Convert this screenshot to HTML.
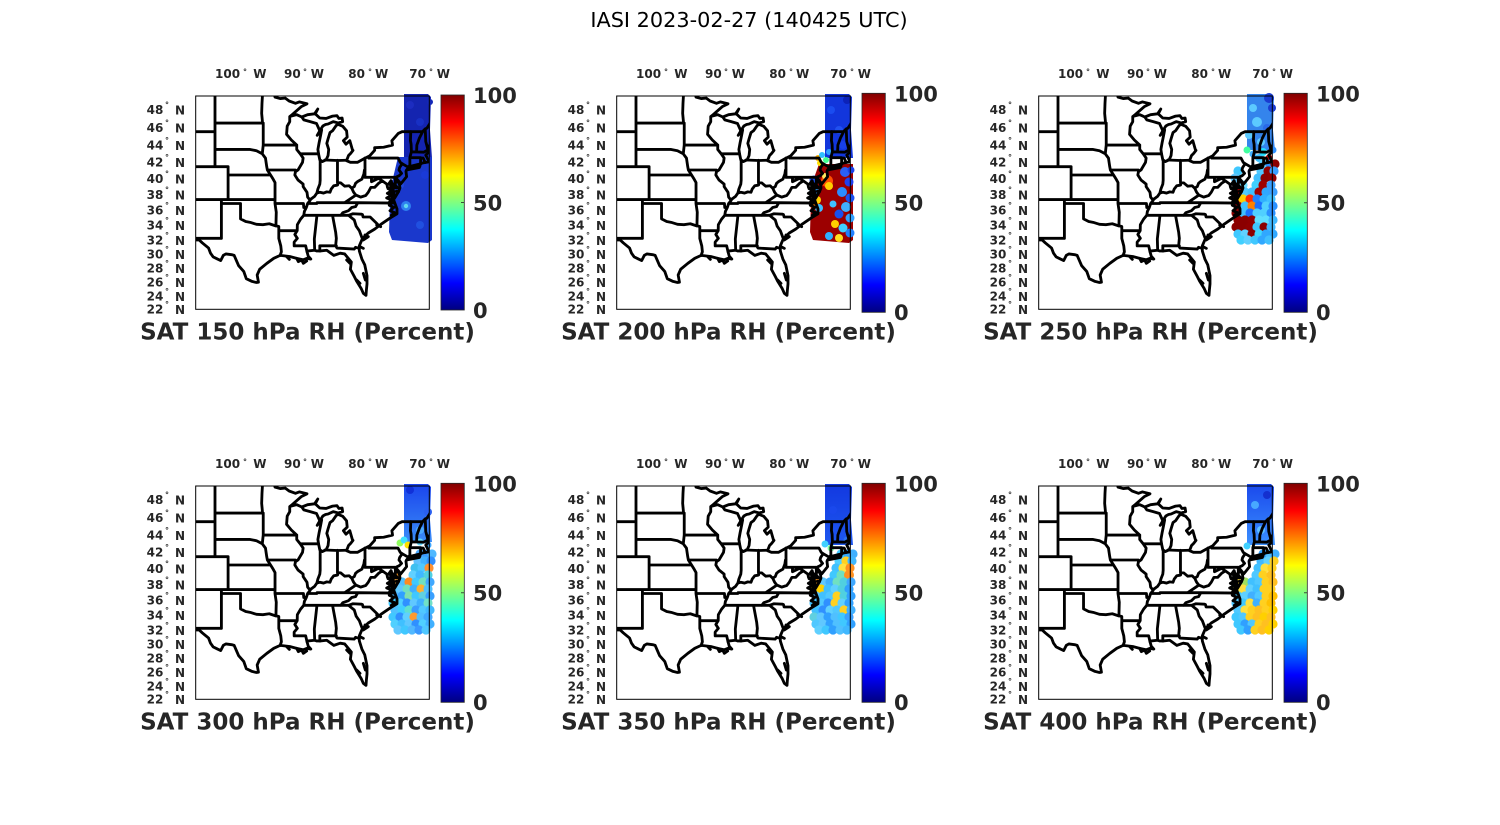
<!DOCTYPE html>
<html><head><meta charset="utf-8">
<style>html,body{margin:0;padding:0;background:#fff;}svg{display:block;}</style>
</head>
<body>
<svg width="1500" height="825" viewBox="0 0 1500 825" xmlns="http://www.w3.org/2000/svg" font-family="'DejaVu Sans','Liberation Sans',sans-serif">
<defs>
<linearGradient id="jet" x1="0" y1="0" x2="0" y2="1">
<stop offset="0" stop-color="#800000"/><stop offset="0.125" stop-color="#ff0000"/><stop offset="0.375" stop-color="#ffff00"/><stop offset="0.5" stop-color="#80ff80"/><stop offset="0.625" stop-color="#00ffff"/><stop offset="0.875" stop-color="#0000ff"/><stop offset="1" stop-color="#000080"/>
</linearGradient>
<linearGradient id="tb4" x1="0" y1="0" x2="0" y2="1"><stop offset="0" stop-color="#1a44ec"/><stop offset="1" stop-color="#3a8cf8"/></linearGradient>
<linearGradient id="tb5" x1="0" y1="0" x2="0" y2="1"><stop offset="0" stop-color="#1238e0"/><stop offset="1" stop-color="#1e58f0"/></linearGradient>
<linearGradient id="tb6" x1="0" y1="0" x2="0" y2="1"><stop offset="0" stop-color="#1a48ec"/><stop offset="1" stop-color="#3a90ff"/></linearGradient>
<clipPath id="mclip" clipPathUnits="userSpaceOnUse"><rect x="197" y="108" width="701" height="640"/></clipPath>
<g id="map" clip-path="url(#mclip)" fill="none" stroke="#000" stroke-width="8.5" stroke-linejoin="round" stroke-linecap="round">
<path d="M 901.7,251.2 L 893,265.8 L 895,277.5 L 887.3,285.2 L 895,300.7 L 906,300 L 906,293 L 900,298 L 895,306 L 879.6,308.4 L 868,312.3 L 837.5,320 L 829.8,330 L 827.9,333.8 L 829.8,350 L 812.6,371.2 L 801,357.5 L 808.7,374.9 L 809.6,384.6 L 805.8,394.4 L 793.4,415 L 791.5,396.8 L 783.8,362.7 L 785.7,394.4 L 785.7,418.6 L 791.5,421 L 801,447 L 801,461.3 L 781.9,473 L 755,491.3 L 734,507.4 L 714.8,519 L 697.6,535 L 688,557.5 L 688,572.9 L 695.7,597.2 L 704.3,614.7 L 711,647 L 711,672 L 709,692 L 708,706 L 700,700 L 693.8,686 L 680.4,664.3 L 672.7,649.2 L 661.2,627.8 L 664,606 L 644,581.8 L 630.5,579.6 L 611.4,586.2 L 590.3,570.7 L 571,572.9 L 559.6,572.9 L 554,570.7 L 534.7,572.9 L 531,575 L 534.7,588.4 L 542.4,597.2 L 531,595 L 519.4,599.4 L 500.2,595 L 479.2,589.5 L 450.4,586.2 L 431.3,595 L 410.2,610.3 L 389,627.8 L 381.5,645 L 385.3,666.5 L 379.5,667.5 L 366,664.3 L 348.9,656 L 341.2,634.2 L 325.9,617 L 312.5,586.2 L 304.8,584 L 287.6,581.8 L 279.9,586.2 L 272.2,601.6 L 262.7,597.2 L 249.3,590.6 L 241.6,579.6 L 235.8,564.2 L 216.7,548.5 L 207.1,539.5 L 190,540"/>
<path d="M 829.8,330 L 868,322.5 L 870,317.4 L 839.4,321.3 Z"/>
<path d="M 424.6,100 L 424.6,91.6 L 431.3,94 L 435.1,111.5 L 450.4,115.7 L 465.8,114.3 L 477.3,123 L 496.4,130 L 507.9,125.7 L 531,131.4 L 513.7,140 L 494.5,157 L 483,167 L 483,168.4 L 500.2,164 L 515.5,171 L 532.8,164 L 553.8,161.4 L 563.4,147 L 555.8,161.4 L 569.2,174 L 588.4,175.4 L 607.5,168.4 L 620.9,167 L 626.7,175.4 L 636.3,174 L 638,185 L 624.8,189 L 609.5,185 L 594.2,192 L 586.6,193.4 L 579,197.5 L 569.4,212.3 L 561.7,226 L 565,222 L 569.4,217.7 L 575,209.6 L 571.3,228.7 L 567.5,247.3 L 563.7,268.4 L 565.6,281.4 L 569.4,299.4 L 577,304.6 L 588.4,299.4 L 594.2,286.6 L 596.1,268.4 L 590.4,250 L 594.2,236.6 L 600,217.7 L 607.6,212.3 L 619,196 L 624.8,193.4 L 638.3,199 L 649.7,212.3 L 651.6,231.3 L 640.2,242 L 647.9,252.6 L 659.4,242 L 667,268.4 L 669,271 L 662,280 L 655.6,286.6 L 649.7,302 L 661.2,307 L 682.2,307 L 705.3,294.3 L 718.8,287.9 L 734,271 L 734,263 L 760.8,261.7 L 787.6,255.2 L 785.7,242 L 804.8,220.4 L 816.3,215 L 877.7,215 L 885.4,207 L 891,204.2 L 900,190 L 906,174"/>
<path d="M 255,100 L 255,320 M 190,215 L 255,215 M 190,320 L 294.3,320 L 294.3,418.6 M 255,189.3 L 397.7,189.3 M 255,268.4 L 360.4,268.4 L 379.5,272.3 L 396.8,281.4 L 406.4,294.3 L 408.3,307.2 L 410.2,320 L 412.1,330 L 421.7,345 M 397.7,100 L 396,130 L 395,160 L 397.7,189.3 L 399.7,189.3 L 399.7,255.2 L 396.8,281.4 M 399.7,255.2 L 500.2,255.2 M 500.2,255.2 L 484,240 L 469.7,223 L 471.6,198.7 L 479.2,185 L 479.2,169.5 L 483,167 M 294.3,345 L 421.7,345 L 429.4,357.5 L 435.1,367.6 L 435.1,418.6 M 190,418.6 L 435.1,418.6 M 274.2,418.6 L 274.2,535 M 190,535 L 274.2,535 M 274.2,430.5 L 331.6,430.5 L 331.6,476.5 L 347,484.4 L 360.4,487 L 379.5,493 L 398.7,494 L 417.8,491.3 L 437,497.6 M 435,418.6 L 435,430.5 L 438.8,456.6 L 437.8,497.4 L 446.4,499.6 L 446.4,535 L 452.3,557.5 L 454.2,575.2 L 450.4,586.2 M 446.4,512 L 501.6,512 M 435,430.5 L 520.3,430.5 L 521.3,442.4 L 529,442.4 M 500.2,255.2 L 500.2,268.4 L 510.7,281.4 L 519.4,294.3 L 517.5,307.2 L 504,330 L 496.4,335 L 494.5,345 L 504,360 L 519.4,372.4 L 519.4,379.8 L 531,396.8 L 532.9,411.3 L 538.6,418.6 L 540.5,421 L 532.9,430.5 L 529,442.4 L 523.2,454.2 L 521.3,466 L 511.7,477.5 L 502,494 L 501.6,512 L 494.5,523.5 L 502,535 L 492.5,546.3 L 492.5,557.5 L 527,557.5 L 531,575.2 M 412.7,330 L 496.4,330 M 510.9,281.4 L 565.6,281.4 M 570.5,300 L 570.5,361.2 L 569.4,372.4 L 563.7,387 L 560.6,399.2 L 553.8,409 L 548,413.4 L 540.5,418.6 M 560.6,399.2 L 569.4,396.8 L 580.7,399.2 L 590.3,395.6 L 600,396.8 L 603.7,387 L 611.3,377.3 L 619,376 L 622.8,374.9 L 622.8,367.6 L 632.4,368.8 L 644,378.5 L 657.4,377.3 L 665.1,384.6 L 672.8,379.8 L 676.6,370 L 682.4,365 L 695.8,357.5 L 701.5,342.5 L 703.4,330 L 705,329 M 622.4,301 L 622.4,367.6 M 584.6,300 L 622.8,301.5 L 648.7,300.7 M 705,294.3 L 705,352 L 795.8,352 M 716.2,294.3 L 804.1,294.3 L 810.8,307.2 L 816.6,311 L 808.9,322.5 L 807,330 L 814.7,340 L 807,347.5 L 801.1,350 M 816.6,311 L 832,320 M 836.7,320 L 839.6,315 L 839.6,293 L 844.2,275 L 843.3,252.6 L 841.3,242 L 842.3,215 M 839.6,293 L 871.8,293 L 871.8,312.3 M 871.8,294 L 879.6,294.3 L 885.4,307.2 M 844.2,275.5 L 859.7,275.8 L 881.7,276.5 L 889.3,272.3 M 859.7,275.8 L 860.6,255.2 L 868.3,234 L 877.9,215 M 893,265.8 L 887.3,244.6 L 885.7,207 M 665.1,384.6 L 670.9,396.8 L 677.6,405.3 L 665.1,413.8 L 644,428.1 L 561,428.1 L 560.6,430.5 L 532.9,430.5 M 644,428.1 L 683.5,428.1 L 793.4,429.3 M 683.5,428.1 L 676.6,440 L 665.1,442.4 L 655.5,452 L 638.3,458 L 632.4,466 M 655.5,466 L 521.3,466 M 655.5,466 L 669,461.3 L 694.5,462.5 L 697.4,463.7 L 699.3,471 L 720.4,471 L 742.4,492.5 M 655.5,466 L 672.8,480 L 678.5,498.6 L 688,512 L 695.7,532.7 M 607.6,466 L 617,516.6 L 619,535 L 617,557.5 M 617,557.5 L 621,564.2 L 672.8,567.3 L 676.6,562 L 685.4,564.2 M 619,557.5 L 569.4,557.5 L 569.4,572.9 M 558.7,466 L 560.6,468 L 553,537 L 554,570.7 M 724.4,352 L 724.4,365 L 745.6,355 L 757,362.7 L 770.6,372.4 L 772.5,382.1 L 785.7,394.4 M 757,362.7 L 745.6,370 L 734,382.1 L 722.6,382.1 L 714.8,396.8 L 707.2,406.5 L 691.8,411.3 L 677.6,405.3 M 795.8,352 L 795.8,383.4 L 809.6,383.4 M 799,394 L 805.8,394.4 M 515.5,171 L 521.3,179.6 L 540.5,185 L 559.6,190.6 L 569.4,212.3"/>
<path d="M 783,362 L 776,372 L 788,378 L 774,386 L 786,392 L 772,400 L 785,406 L 770,414 L 784,420 L 775,430 M 795,352 L 800,365 L 792,372 L 800,380 M 790,425 L 778,436 L 792,442 L 780,452 L 794,458 L 784,466 M 740,495 L 752,500 M 705,525 L 715,530 L 700,540 M 690,560 L 700,565 M 500,595 L 505,605 L 515,600 L 520,610 L 530,603 M 470,590 L 478,598 M 650,600 L 660,610 M 700,640 L 706,660 M 680,660 L 690,670"/>
</g>
</defs>

<rect width="1500" height="825" fill="#fff"/>
<text x="749" y="27" font-size="20.8" text-anchor="middle" fill="#000">IASI 2023-02-27 (140425 UTC)</text>

<!-- ===== Panel 1 ===== -->
<g>
<polygon points="404,94 428,94 431,97 430,130 432,158 404,158" fill="#1424b0"/>
<polygon points="398,157 432,157 432,240 428,243 392,240 389,232 390,200 393,178" fill="#1a38cc"/>
<circle cx="410" cy="105" r="4" fill="#1c2cc0"/><circle cx="420" cy="122" r="4" fill="#1830c4"/><circle cx="430" cy="102" r="3" fill="#1428b8"/>
<circle cx="400" cy="185" r="4" fill="#2048dc"/><circle cx="420" cy="225" r="4" fill="#2050e0"/><circle cx="425" cy="175" r="4" fill="#1a3ad8"/>
<circle cx="406" cy="206" r="5" fill="#2f7ff0"/><circle cx="406" cy="206" r="2.2" fill="#5fd8f0"/>
<use href="#map" transform="translate(130,60) scale(0.333333)"/>
</g>

<!-- ===== Panel 2 ===== -->
<g transform="translate(421,0)">
<polygon points="404,94 428,94 431,97 430,130 432,158 404,158" fill="#1236dc"/>
<circle cx="410" cy="110" r="4" fill="#1a4cf0"/><circle cx="418" cy="130" r="4" fill="#2050f0"/><circle cx="426" cy="100" r="4" fill="#0c22b8"/><circle cx="422" cy="145" r="4" fill="#1840e8"/>
<polygon points="398,164 432,164 432,240 428,243 392,240 389,232 390,200 393,178" fill="#9c0000"/>
<circle cx="397" cy="158" r="3" fill="#ffb000"/><circle cx="401" cy="155" r="3" fill="#30c0ff"/><circle cx="399" cy="163" r="3" fill="#ffe000"/><circle cx="405" cy="160" r="3" fill="#40ff90"/><circle cx="408" cy="152" r="3" fill="#30a0ff"/>
<g>
<circle cx="393" cy="180" r="4.5" fill="#1e50f0"/><circle cx="393" cy="190" r="4.5" fill="#30a0ff"/><circle cx="396" cy="200" r="4" fill="#ffd000"/><circle cx="392" cy="205" r="3" fill="#ff8000"/><circle cx="398" cy="208" r="4" fill="#40c0ff"/>
<circle cx="406" cy="181" r="6" fill="#ff5000"/><circle cx="408" cy="186" r="4" fill="#ffd000"/><circle cx="404" cy="176" r="3" fill="#ffe860"/>
<circle cx="424" cy="172" r="5" fill="#2a60f5"/><circle cx="428" cy="182" r="4.5" fill="#1e40f0"/><circle cx="421" cy="192" r="5" fill="#2a8cff"/><circle cx="429" cy="198" r="4.5" fill="#1a50f0"/><circle cx="425" cy="207" r="5" fill="#40b0ff"/><circle cx="412" cy="204" r="3.5" fill="#40c0ff"/><circle cx="418" cy="214" r="4.5" fill="#1850f0"/><circle cx="429" cy="218" r="4.5" fill="#30a0ff"/><circle cx="414" cy="224" r="4" fill="#ffd000"/><circle cx="422" cy="228" r="4.5" fill="#40d0ff"/><circle cx="429" cy="233" r="4.5" fill="#2080ff"/><circle cx="408" cy="236" r="4" fill="#30b0ff"/><circle cx="418" cy="238" r="4" fill="#ffe020"/><circle cx="430" cy="170" r="3.5" fill="#1a40e8"/>
</g>
<use href="#map" transform="translate(130,60) scale(0.333333)"/>
</g>

<!-- ===== Panel 3 ===== -->
<g transform="translate(843,0)">
<polygon points="404,94 428,94 431,97 430,130 432,150 404,150" fill="#3484ec"/>
<circle cx="410" cy="108" r="4" fill="#5ccaff"/><circle cx="414" cy="122" r="5" fill="#5ccaff"/><circle cx="406" cy="135" r="4" fill="#5ccaff"/><circle cx="418" cy="142" r="4" fill="#5ccaff"/><circle cx="426" cy="98" r="5" fill="#1a3cd0"/><circle cx="429" cy="108" r="4" fill="#1a3cd0"/><circle cx="424" cy="128" r="4" fill="#2a6ae8"/>
<circle cx="404" cy="150" r="3.5" fill="#40ffa0"/><circle cx="420" cy="152" r="4" fill="#20e0ff"/><circle cx="426" cy="158" r="3.5" fill="#c00000"/><circle cx="416" cy="158" r="4" fill="#40c0ff"/><circle cx="410" cy="154" r="3.5" fill="#40b0ff"/><circle cx="430" cy="150" r="3.5" fill="#3090ff"/>
<g>
<circle cx="420" cy="164" r="4.6" fill="#60d0ff"/><circle cx="427" cy="164" r="4.6" fill="#2a90ff"/><circle cx="432" cy="164" r="4.6" fill="#8b0000"/>
<circle cx="395" cy="171" r="4.6" fill="#40c8ff"/><circle cx="418" cy="171" r="4.6" fill="#50c8ff"/><circle cx="425" cy="171" r="4.6" fill="#900000"/><circle cx="431" cy="171" r="4.6" fill="#3aa0ff"/>
<circle cx="392" cy="178" r="4.6" fill="#60c8ff"/><circle cx="415" cy="178" r="4.6" fill="#40c0ff"/><circle cx="422" cy="178" r="4.6" fill="#8b0000"/><circle cx="429" cy="178" r="4.6" fill="#900000"/>
<circle cx="400" cy="185" r="4.6" fill="#70e0ff"/><circle cx="413" cy="185" r="4.6" fill="#40d0ff"/><circle cx="420" cy="185" r="4.6" fill="#a00000"/><circle cx="428" cy="185" r="4.6" fill="#3aa0ff"/>
<circle cx="395" cy="192" r="4.6" fill="#c00000"/><circle cx="402" cy="192" r="4.6" fill="#50c8ff"/><circle cx="409" cy="192" r="4.6" fill="#40c0ff"/><circle cx="416" cy="192" r="4.6" fill="#a00000"/><circle cx="423" cy="192" r="4.6" fill="#30a8ff"/><circle cx="430" cy="192" r="4.6" fill="#3aa0ff"/>
<circle cx="393" cy="199" r="4.6" fill="#8b0000"/><circle cx="400" cy="199" r="4.6" fill="#ffd000"/><circle cx="407" cy="199" r="4.6" fill="#ff2a00"/><circle cx="414" cy="199" r="4.6" fill="#2080ff"/><circle cx="421" cy="199" r="4.6" fill="#30b0ff"/><circle cx="428" cy="199" r="4.6" fill="#40c0ff"/>
<circle cx="395" cy="206" r="4.6" fill="#900000"/><circle cx="402" cy="206" r="4.6" fill="#40c0ff"/><circle cx="409" cy="206" r="4.6" fill="#ff8000"/><circle cx="416" cy="206" r="4.6" fill="#1a70ff"/><circle cx="423" cy="206" r="4.6" fill="#50d0ff"/><circle cx="430" cy="206" r="4.6" fill="#2a90ff"/>
<circle cx="393" cy="213" r="4.6" fill="#8b0000"/><circle cx="400" cy="213" r="4.6" fill="#40c0ff"/><circle cx="407" cy="213" r="4.6" fill="#1a70ff"/><circle cx="414" cy="213" r="4.6" fill="#50d0ff"/><circle cx="421" cy="213" r="4.6" fill="#50d0ff"/><circle cx="428" cy="213" r="4.6" fill="#2a90ff"/>
<circle cx="395" cy="220" r="4.6" fill="#8b0000"/><circle cx="402" cy="220" r="4.6" fill="#8b0000"/><circle cx="409" cy="220" r="4.6" fill="#900000"/><circle cx="416" cy="220" r="4.6" fill="#60e0ff"/><circle cx="423" cy="220" r="4.6" fill="#60e0ff"/><circle cx="430" cy="220" r="4.6" fill="#40b8ff"/>
<circle cx="393" cy="227" r="4.6" fill="#8b0000"/><circle cx="400" cy="227" r="4.6" fill="#8b0000"/><circle cx="407" cy="227" r="4.6" fill="#900000"/><circle cx="414" cy="227" r="4.6" fill="#40c8ff"/><circle cx="421" cy="227" r="4.6" fill="#8b0000"/><circle cx="428" cy="227" r="4.6" fill="#40b8ff"/>
<circle cx="395" cy="234" r="4.6" fill="#40c8ff"/><circle cx="402" cy="234" r="4.6" fill="#60d0ff"/><circle cx="409" cy="234" r="4.6" fill="#8b0000"/><circle cx="416" cy="234" r="4.6" fill="#40d8ff"/><circle cx="423" cy="234" r="4.6" fill="#30a8ff"/><circle cx="430" cy="234" r="4.6" fill="#30a8ff"/>
<circle cx="398" cy="240" r="4.6" fill="#40d0ff"/><circle cx="405" cy="240" r="4.6" fill="#60d0ff"/><circle cx="412" cy="240" r="4.6" fill="#40c8ff"/><circle cx="419" cy="240" r="4.6" fill="#30a8ff"/><circle cx="426" cy="240" r="4.6" fill="#40c0ff"/>
</g>
<use href="#map" transform="translate(130,60) scale(0.333333)"/>
</g>

<!-- ===== Panel 4 ===== -->
<g transform="translate(0,390)">
<polygon points="404,94 428,94 431,97 430,130 432,152 404,152" fill="url(#tb4)"/>
<circle cx="410" cy="100" r="4" fill="#1030d8"/><circle cx="420" cy="140" r="4" fill="#4aa8ff"/><circle cx="428" cy="122" r="4" fill="#2a60f0"/>
<circle cx="400" cy="153" r="3.5" fill="#90ff60"/><circle cx="404" cy="150" r="3.5" fill="#40e0ff"/><circle cx="408" cy="155" r="3.5" fill="#ffe000"/><circle cx="420" cy="152" r="3.5" fill="#60d8ff"/><circle cx="428" cy="155" r="3.5" fill="#40a8ff"/>
<g>
<circle cx="420" cy="164" r="4.6" fill="#4aa8ff"/><circle cx="427" cy="164" r="4.6" fill="#3a98ff"/><circle cx="432" cy="164" r="4.6" fill="#50b8ff"/>
<circle cx="418" cy="171" r="4.6" fill="#60c0ff"/><circle cx="425" cy="171" r="4.6" fill="#40b0ff"/><circle cx="431" cy="171" r="4.6" fill="#3090ff"/>
<circle cx="415" cy="178" r="4.6" fill="#40c0f0"/><circle cx="422" cy="178" r="4.6" fill="#50c8ff"/><circle cx="429" cy="178" r="4.6" fill="#ff9030"/>
<circle cx="398" cy="185" r="3.5" fill="#ff9a20"/><circle cx="413" cy="185" r="4.6" fill="#60d0ff"/><circle cx="420" cy="185" r="4.6" fill="#40b8ff"/><circle cx="428" cy="185" r="4.6" fill="#50d0e0"/>
<circle cx="395" cy="192" r="4.6" fill="#ffb040"/><circle cx="402" cy="192" r="4.6" fill="#50c0ff"/><circle cx="409" cy="192" r="4.6" fill="#ff8a20"/><circle cx="416" cy="192" r="4.6" fill="#40c8ff"/><circle cx="423" cy="192" r="4.6" fill="#70e0c0"/><circle cx="430" cy="192" r="4.6" fill="#40a8ff"/>
<circle cx="393" cy="199" r="4.6" fill="#40d0ff"/><circle cx="400" cy="199" r="4.6" fill="#60c8ff"/><circle cx="407" cy="199" r="4.6" fill="#70e0c0"/><circle cx="414" cy="199" r="4.6" fill="#40b0ff"/><circle cx="421" cy="199" r="4.6" fill="#ffb030"/><circle cx="428" cy="199" r="4.6" fill="#50c0ff"/>
<circle cx="395" cy="206" r="4.6" fill="#50b8ff"/><circle cx="402" cy="206" r="4.6" fill="#30a0ff"/><circle cx="409" cy="206" r="4.6" fill="#80e0b0"/><circle cx="416" cy="206" r="4.6" fill="#40c8ff"/><circle cx="423" cy="206" r="4.6" fill="#60d0e0"/><circle cx="430" cy="206" r="4.6" fill="#3aa0ff"/>
<circle cx="393" cy="213" r="4.6" fill="#40c8ff"/><circle cx="400" cy="213" r="4.6" fill="#50d0ff"/><circle cx="407" cy="213" r="4.6" fill="#3090ff"/><circle cx="414" cy="213" r="4.6" fill="#60c8ff"/><circle cx="421" cy="213" r="4.6" fill="#40b0ff"/><circle cx="428" cy="213" r="4.6" fill="#70e0c8"/>
<circle cx="395" cy="220" r="4.6" fill="#50c0ff"/><circle cx="402" cy="220" r="4.6" fill="#40d0ff"/><circle cx="409" cy="220" r="4.6" fill="#60e0d0"/><circle cx="416" cy="220" r="4.6" fill="#3a9cff"/><circle cx="423" cy="220" r="4.6" fill="#50c8ff"/><circle cx="430" cy="220" r="4.6" fill="#40b8ff"/>
<circle cx="393" cy="227" r="4.6" fill="#40c8ff"/><circle cx="400" cy="227" r="4.6" fill="#3090ff"/><circle cx="407" cy="227" r="4.6" fill="#60d0ff"/><circle cx="414" cy="227" r="4.6" fill="#ff9a30"/><circle cx="421" cy="227" r="4.6" fill="#50c0ff"/><circle cx="428" cy="227" r="4.6" fill="#40a8ff"/>
<circle cx="395" cy="234" r="4.6" fill="#50d0ff"/><circle cx="402" cy="234" r="4.6" fill="#40c0ff"/><circle cx="409" cy="234" r="4.6" fill="#60c8ff"/><circle cx="416" cy="234" r="4.6" fill="#3090ff"/><circle cx="423" cy="234" r="4.6" fill="#50d0ff"/><circle cx="430" cy="234" r="4.6" fill="#40b0ff"/>
<circle cx="398" cy="240" r="4.6" fill="#60c8ff"/><circle cx="405" cy="240" r="4.6" fill="#40c8ff"/><circle cx="412" cy="240" r="4.6" fill="#50b8ff"/><circle cx="419" cy="240" r="4.6" fill="#3a98ff"/><circle cx="426" cy="240" r="4.6" fill="#50c8ff"/>
</g>
<use href="#map" transform="translate(130,60) scale(0.333333)"/>
</g>

<!-- ===== Panel 5 ===== -->
<g transform="translate(421,390)">
<polygon points="404,94 428,94 431,97 430,130 432,155 404,155" fill="url(#tb5)"/>
<circle cx="412" cy="120" r="4" fill="#1a48ec"/><circle cx="404" cy="154" r="3.5" fill="#40d0ff"/><circle cx="410" cy="158" r="3.5" fill="#80ffa0"/><circle cx="426" cy="150" r="3.5" fill="#2a70f0"/>
<g>
<circle cx="420" cy="164" r="4.6" fill="#40c8ff"/><circle cx="427" cy="164" r="4.6" fill="#30a8ff"/><circle cx="432" cy="164" r="4.6" fill="#40b0ff"/>
<circle cx="418" cy="171" r="4.6" fill="#50d0ff"/><circle cx="425" cy="171" r="4.6" fill="#ffd020"/><circle cx="431" cy="171" r="4.6" fill="#40b8ff"/>
<circle cx="415" cy="178" r="4.6" fill="#40c0ff"/><circle cx="422" cy="178" r="4.6" fill="#ffe040"/><circle cx="429" cy="178" r="4.6" fill="#ff9020"/>
<circle cx="413" cy="185" r="4.6" fill="#40c8ff"/><circle cx="420" cy="185" r="4.6" fill="#70e0c0"/><circle cx="428" cy="185" r="5" fill="#ff9020"/>
<circle cx="395" cy="192" r="4.6" fill="#ff9a20"/><circle cx="402" cy="192" r="4.6" fill="#60c8ff"/><circle cx="409" cy="192" r="4.6" fill="#40b0ff"/><circle cx="416" cy="192" r="4.6" fill="#70e0c0"/><circle cx="423" cy="192" r="4.6" fill="#50d0e0"/><circle cx="430" cy="192" r="4.6" fill="#40a8ff"/>
<circle cx="393" cy="199" r="4.6" fill="#ffd000"/><circle cx="400" cy="199" r="4.6" fill="#ffd000"/><circle cx="407" cy="199" r="4.6" fill="#40c0ff"/><circle cx="414" cy="199" r="4.6" fill="#60d0ff"/><circle cx="421" cy="199" r="4.6" fill="#50d0e0"/><circle cx="428" cy="199" r="4.6" fill="#30a0ff"/>
<circle cx="395" cy="206" r="4.6" fill="#60c8ff"/><circle cx="402" cy="206" r="4.6" fill="#40c0ff"/><circle cx="409" cy="206" r="4.6" fill="#50c8ff"/><circle cx="416" cy="206" r="4.6" fill="#ffd020"/><circle cx="423" cy="206" r="4.6" fill="#50d0e0"/><circle cx="430" cy="206" r="4.6" fill="#30a0ff"/>
<circle cx="393" cy="213" r="4.6" fill="#40c0ff"/><circle cx="400" cy="213" r="4.6" fill="#50c8ff"/><circle cx="407" cy="213" r="4.6" fill="#3090ff"/><circle cx="414" cy="213" r="4.6" fill="#ffd020"/><circle cx="421" cy="213" r="4.6" fill="#60d0ff"/><circle cx="428" cy="213" r="4.6" fill="#30a0ff"/>
<circle cx="395" cy="220" r="4.6" fill="#40c0ff"/><circle cx="402" cy="220" r="4.6" fill="#3090ff"/><circle cx="409" cy="220" r="4.6" fill="#60d0ff"/><circle cx="416" cy="220" r="4.6" fill="#50c8ff"/><circle cx="423" cy="220" r="4.6" fill="#ffd020"/><circle cx="430" cy="220" r="4.6" fill="#40b0ff"/>
<circle cx="393" cy="227" r="4.6" fill="#60d0e0"/><circle cx="400" cy="227" r="4.6" fill="#60c8ff"/><circle cx="407" cy="227" r="4.6" fill="#30a0ff"/><circle cx="414" cy="227" r="4.6" fill="#50c0ff"/><circle cx="421" cy="227" r="4.6" fill="#40c8ff"/><circle cx="428" cy="227" r="4.6" fill="#3aa0ff"/>
<circle cx="395" cy="234" r="4.6" fill="#50c8ff"/><circle cx="402" cy="234" r="4.6" fill="#60c8ff"/><circle cx="409" cy="234" r="4.6" fill="#30a0ff"/><circle cx="416" cy="234" r="4.6" fill="#50c0ff"/><circle cx="423" cy="234" r="4.6" fill="#40c8ff"/><circle cx="430" cy="234" r="4.6" fill="#30a0ff"/>
<circle cx="398" cy="240" r="4.6" fill="#60d0ff"/><circle cx="405" cy="240" r="4.6" fill="#40c8ff"/><circle cx="412" cy="240" r="4.6" fill="#30a0ff"/><circle cx="419" cy="240" r="4.6" fill="#50c0ff"/><circle cx="426" cy="240" r="4.6" fill="#40b8ff"/>
</g>
<use href="#map" transform="translate(130,60) scale(0.333333)"/>
</g>

<!-- ===== Panel 6 ===== -->
<g transform="translate(843,390)">
<polygon points="404,94 428,94 431,97 430,130 432,155 404,155" fill="url(#tb6)"/>
<circle cx="412" cy="115" r="4" fill="#48a8ff"/><circle cx="424" cy="105" r="4" fill="#1430d0"/><circle cx="418" cy="140" r="4" fill="#60c0ff"/><circle cx="404" cy="156" r="3.5" fill="#40d0ff"/><circle cx="428" cy="150" r="3.5" fill="#3a90ff"/>
<g>
<circle cx="420" cy="164" r="4.6" fill="#30a0ff"/><circle cx="427" cy="164" r="4.6" fill="#50c0ff"/><circle cx="432" cy="164" r="4.6" fill="#40b0ff"/>
<circle cx="418" cy="171" r="4.6" fill="#40b8ff"/><circle cx="425" cy="171" r="4.6" fill="#60d0ff"/><circle cx="431" cy="171" r="4.6" fill="#ffd020"/>
<circle cx="415" cy="178" r="4.6" fill="#40c0ff"/><circle cx="422" cy="178" r="4.6" fill="#ffe040"/><circle cx="429" cy="178" r="4.6" fill="#ffd020"/>
<circle cx="413" cy="185" r="4.6" fill="#50c8ff"/><circle cx="420" cy="185" r="4.6" fill="#ffd020"/><circle cx="428" cy="185" r="4.6" fill="#ffc020"/>
<circle cx="395" cy="192" r="4.6" fill="#ffe040"/><circle cx="402" cy="192" r="4.6" fill="#a0e060"/><circle cx="409" cy="192" r="4.6" fill="#40c0ff"/><circle cx="416" cy="192" r="4.6" fill="#50c8ff"/><circle cx="423" cy="192" r="4.6" fill="#ffd020"/><circle cx="430" cy="192" r="4.6" fill="#ffc020"/>
<circle cx="393" cy="199" r="4.6" fill="#e0e020"/><circle cx="400" cy="199" r="4.6" fill="#ffe040"/><circle cx="407" cy="199" r="4.6" fill="#60d0ff"/><circle cx="414" cy="199" r="4.6" fill="#40c0ff"/><circle cx="421" cy="199" r="4.6" fill="#ffd020"/><circle cx="428" cy="199" r="4.6" fill="#ffd020"/>
<circle cx="395" cy="206" r="4.6" fill="#40c8ff"/><circle cx="402" cy="206" r="4.6" fill="#60d0ff"/><circle cx="409" cy="206" r="4.6" fill="#40b0ff"/><circle cx="416" cy="206" r="4.6" fill="#50c8ff"/><circle cx="423" cy="206" r="4.6" fill="#ffd020"/><circle cx="430" cy="206" r="4.6" fill="#ffc000"/>
<circle cx="393" cy="213" r="4.6" fill="#50c8ff"/><circle cx="400" cy="213" r="4.6" fill="#40c8ff"/><circle cx="407" cy="213" r="4.6" fill="#ffe040"/><circle cx="414" cy="213" r="4.6" fill="#40b0ff"/><circle cx="421" cy="213" r="4.6" fill="#ffd020"/><circle cx="428" cy="213" r="4.6" fill="#ffc000"/>
<circle cx="395" cy="220" r="4.6" fill="#50c8ff"/><circle cx="402" cy="220" r="4.6" fill="#ffe040"/><circle cx="409" cy="220" r="4.6" fill="#ffd020"/><circle cx="416" cy="220" r="4.6" fill="#ffc020"/><circle cx="423" cy="220" r="4.6" fill="#ffd020"/><circle cx="430" cy="220" r="4.6" fill="#ffd000"/>
<circle cx="393" cy="227" r="4.6" fill="#40c8ff"/><circle cx="400" cy="227" r="4.6" fill="#50c8ff"/><circle cx="407" cy="227" r="4.6" fill="#ffd020"/><circle cx="414" cy="227" r="4.6" fill="#ffc020"/><circle cx="421" cy="227" r="4.6" fill="#ffd000"/><circle cx="428" cy="227" r="4.6" fill="#ffc020"/>
<circle cx="395" cy="234" r="4.6" fill="#40c8ff"/><circle cx="402" cy="234" r="4.6" fill="#30a0ff"/><circle cx="409" cy="234" r="4.6" fill="#50c8ff"/><circle cx="416" cy="234" r="4.6" fill="#ffd020"/><circle cx="423" cy="234" r="4.6" fill="#ffc020"/><circle cx="430" cy="234" r="4.6" fill="#ffd000"/>
<circle cx="398" cy="240" r="4.6" fill="#40c8ff"/><circle cx="405" cy="240" r="4.6" fill="#30a0ff"/><circle cx="412" cy="240" r="4.6" fill="#ffd020"/><circle cx="419" cy="240" r="4.6" fill="#ffc020"/><circle cx="426" cy="240" r="4.6" fill="#ffd000"/>
</g>
<use href="#map" transform="translate(130,60) scale(0.333333)"/>
</g>

<!-- ===== Axes, colorbars and labels for each panel ===== -->
<g font-weight="bold" fill="#262626">

<!-- Panel 1 -->
<g>
<rect x="195.7" y="96" width="233.6" height="213.3" fill="none" stroke="#000" stroke-width="1"/>
<rect x="441" y="95" width="23.3" height="215" fill="url(#jet)" stroke="#262626" stroke-width="0.8"/>
<line x1="461" y1="202.5" x2="464.3" y2="202.5" stroke="#262626" stroke-width="0.8"/>
<g font-size="21"><text x="473" y="103">100</text><text x="473" y="210.5">50</text><text x="473" y="318">0</text></g>
<g font-size="12">
<text y="78"><tspan x="215">100</tspan><tspan x="243" dy="-3.3" font-size="8">°</tspan><tspan x="253.3" dy="3.5">W</tspan></text>
<text y="78"><tspan x="284">90</tspan><tspan x="303" dy="-3.3" font-size="8">°</tspan><tspan x="310.7" dy="3.5">W</tspan></text>
<text y="78"><tspan x="348.3">80</tspan><tspan x="368" dy="-3.3" font-size="8">°</tspan><tspan x="375" dy="3.5">W</tspan></text>
<text y="78"><tspan x="409.3">70</tspan><tspan x="429" dy="-3.3" font-size="8">°</tspan><tspan x="436.7" dy="3.5">W</tspan></text>
<text y="114"><tspan x="163.3" text-anchor="end">48</tspan><tspan x="165" dy="-6.3" font-size="8">°</tspan><tspan x="175" dy="6.8">N</tspan></text>
<text y="132"><tspan x="163.3" text-anchor="end">46</tspan><tspan x="165" dy="-6.3" font-size="8">°</tspan><tspan x="175" dy="6.8">N</tspan></text>
<text y="149.5"><tspan x="163.3" text-anchor="end">44</tspan><tspan x="165" dy="-6.3" font-size="8">°</tspan><tspan x="175" dy="6.8">N</tspan></text>
<text y="166.5"><tspan x="163.3" text-anchor="end">42</tspan><tspan x="165" dy="-6.3" font-size="8">°</tspan><tspan x="175" dy="6.8">N</tspan></text>
<text y="183"><tspan x="163.3" text-anchor="end">40</tspan><tspan x="165" dy="-6.3" font-size="8">°</tspan><tspan x="175" dy="6.8">N</tspan></text>
<text y="199"><tspan x="163.3" text-anchor="end">38</tspan><tspan x="165" dy="-6.3" font-size="8">°</tspan><tspan x="175" dy="6.8">N</tspan></text>
<text y="214.5"><tspan x="163.3" text-anchor="end">36</tspan><tspan x="165" dy="-6.3" font-size="8">°</tspan><tspan x="175" dy="6.8">N</tspan></text>
<text y="229.5"><tspan x="163.3" text-anchor="end">34</tspan><tspan x="165" dy="-6.3" font-size="8">°</tspan><tspan x="175" dy="6.8">N</tspan></text>
<text y="244.5"><tspan x="163.3" text-anchor="end">32</tspan><tspan x="165" dy="-6.3" font-size="8">°</tspan><tspan x="175" dy="6.8">N</tspan></text>
<text y="258.5"><tspan x="163.3" text-anchor="end">30</tspan><tspan x="165" dy="-6.3" font-size="8">°</tspan><tspan x="175" dy="6.8">N</tspan></text>
<text y="272.5"><tspan x="163.3" text-anchor="end">28</tspan><tspan x="165" dy="-6.3" font-size="8">°</tspan><tspan x="175" dy="6.8">N</tspan></text>
<text y="286.5"><tspan x="163.3" text-anchor="end">26</tspan><tspan x="165" dy="-6.3" font-size="8">°</tspan><tspan x="175" dy="6.8">N</tspan></text>
<text y="300.5"><tspan x="163.3" text-anchor="end">24</tspan><tspan x="165" dy="-6.3" font-size="8">°</tspan><tspan x="175" dy="6.8">N</tspan></text>
<text y="313.5"><tspan x="163.3" text-anchor="end">22</tspan><tspan x="165" dy="-6.3" font-size="8">°</tspan><tspan x="175" dy="6.8">N</tspan></text>
</g>
<text x="307.5" y="339.5" font-size="23" text-anchor="middle">SAT 150 hPa RH (Percent)</text>
</g>

<!-- Panel 2 -->
<g transform="translate(421,0)">
<rect x="195.7" y="96" width="233.6" height="213.3" fill="none" stroke="#000" stroke-width="1"/>
<rect x="441" y="93.3" width="23.3" height="219" fill="url(#jet)" stroke="#262626" stroke-width="0.8"/>
<line x1="461" y1="202.8" x2="464.3" y2="202.8" stroke="#262626" stroke-width="0.8"/>
<g font-size="21"><text x="473" y="101.5">100</text><text x="473" y="210.5">50</text><text x="473" y="320">0</text></g>
<g font-size="12">
<text y="78"><tspan x="215">100</tspan><tspan x="243" dy="-3.3" font-size="8">°</tspan><tspan x="253.3" dy="3.5">W</tspan></text>
<text y="78"><tspan x="284">90</tspan><tspan x="303" dy="-3.3" font-size="8">°</tspan><tspan x="310.7" dy="3.5">W</tspan></text>
<text y="78"><tspan x="348.3">80</tspan><tspan x="368" dy="-3.3" font-size="8">°</tspan><tspan x="375" dy="3.5">W</tspan></text>
<text y="78"><tspan x="409.3">70</tspan><tspan x="429" dy="-3.3" font-size="8">°</tspan><tspan x="436.7" dy="3.5">W</tspan></text>
<text y="114"><tspan x="163.3" text-anchor="end">48</tspan><tspan x="165" dy="-6.3" font-size="8">°</tspan><tspan x="175" dy="6.8">N</tspan></text>
<text y="132"><tspan x="163.3" text-anchor="end">46</tspan><tspan x="165" dy="-6.3" font-size="8">°</tspan><tspan x="175" dy="6.8">N</tspan></text>
<text y="149.5"><tspan x="163.3" text-anchor="end">44</tspan><tspan x="165" dy="-6.3" font-size="8">°</tspan><tspan x="175" dy="6.8">N</tspan></text>
<text y="166.5"><tspan x="163.3" text-anchor="end">42</tspan><tspan x="165" dy="-6.3" font-size="8">°</tspan><tspan x="175" dy="6.8">N</tspan></text>
<text y="183"><tspan x="163.3" text-anchor="end">40</tspan><tspan x="165" dy="-6.3" font-size="8">°</tspan><tspan x="175" dy="6.8">N</tspan></text>
<text y="199"><tspan x="163.3" text-anchor="end">38</tspan><tspan x="165" dy="-6.3" font-size="8">°</tspan><tspan x="175" dy="6.8">N</tspan></text>
<text y="214.5"><tspan x="163.3" text-anchor="end">36</tspan><tspan x="165" dy="-6.3" font-size="8">°</tspan><tspan x="175" dy="6.8">N</tspan></text>
<text y="229.5"><tspan x="163.3" text-anchor="end">34</tspan><tspan x="165" dy="-6.3" font-size="8">°</tspan><tspan x="175" dy="6.8">N</tspan></text>
<text y="244.5"><tspan x="163.3" text-anchor="end">32</tspan><tspan x="165" dy="-6.3" font-size="8">°</tspan><tspan x="175" dy="6.8">N</tspan></text>
<text y="258.5"><tspan x="163.3" text-anchor="end">30</tspan><tspan x="165" dy="-6.3" font-size="8">°</tspan><tspan x="175" dy="6.8">N</tspan></text>
<text y="272.5"><tspan x="163.3" text-anchor="end">28</tspan><tspan x="165" dy="-6.3" font-size="8">°</tspan><tspan x="175" dy="6.8">N</tspan></text>
<text y="286.5"><tspan x="163.3" text-anchor="end">26</tspan><tspan x="165" dy="-6.3" font-size="8">°</tspan><tspan x="175" dy="6.8">N</tspan></text>
<text y="300.5"><tspan x="163.3" text-anchor="end">24</tspan><tspan x="165" dy="-6.3" font-size="8">°</tspan><tspan x="175" dy="6.8">N</tspan></text>
<text y="313.5"><tspan x="163.3" text-anchor="end">22</tspan><tspan x="165" dy="-6.3" font-size="8">°</tspan><tspan x="175" dy="6.8">N</tspan></text>
</g>
<text x="307.5" y="339.5" font-size="23" text-anchor="middle">SAT 200 hPa RH (Percent)</text>
</g>

<!-- Panel 3 -->
<g transform="translate(843,0)">
<rect x="195.7" y="96" width="233.6" height="213.3" fill="none" stroke="#000" stroke-width="1"/>
<rect x="441" y="93.3" width="23.3" height="219" fill="url(#jet)" stroke="#262626" stroke-width="0.8"/>
<line x1="461" y1="202.8" x2="464.3" y2="202.8" stroke="#262626" stroke-width="0.8"/>
<g font-size="21"><text x="473" y="101.5">100</text><text x="473" y="210.5">50</text><text x="473" y="320">0</text></g>
<g font-size="12">
<text y="78"><tspan x="215">100</tspan><tspan x="243" dy="-3.3" font-size="8">°</tspan><tspan x="253.3" dy="3.5">W</tspan></text>
<text y="78"><tspan x="284">90</tspan><tspan x="303" dy="-3.3" font-size="8">°</tspan><tspan x="310.7" dy="3.5">W</tspan></text>
<text y="78"><tspan x="348.3">80</tspan><tspan x="368" dy="-3.3" font-size="8">°</tspan><tspan x="375" dy="3.5">W</tspan></text>
<text y="78"><tspan x="409.3">70</tspan><tspan x="429" dy="-3.3" font-size="8">°</tspan><tspan x="436.7" dy="3.5">W</tspan></text>
<text y="114"><tspan x="163.3" text-anchor="end">48</tspan><tspan x="165" dy="-6.3" font-size="8">°</tspan><tspan x="175" dy="6.8">N</tspan></text>
<text y="132"><tspan x="163.3" text-anchor="end">46</tspan><tspan x="165" dy="-6.3" font-size="8">°</tspan><tspan x="175" dy="6.8">N</tspan></text>
<text y="149.5"><tspan x="163.3" text-anchor="end">44</tspan><tspan x="165" dy="-6.3" font-size="8">°</tspan><tspan x="175" dy="6.8">N</tspan></text>
<text y="166.5"><tspan x="163.3" text-anchor="end">42</tspan><tspan x="165" dy="-6.3" font-size="8">°</tspan><tspan x="175" dy="6.8">N</tspan></text>
<text y="183"><tspan x="163.3" text-anchor="end">40</tspan><tspan x="165" dy="-6.3" font-size="8">°</tspan><tspan x="175" dy="6.8">N</tspan></text>
<text y="199"><tspan x="163.3" text-anchor="end">38</tspan><tspan x="165" dy="-6.3" font-size="8">°</tspan><tspan x="175" dy="6.8">N</tspan></text>
<text y="214.5"><tspan x="163.3" text-anchor="end">36</tspan><tspan x="165" dy="-6.3" font-size="8">°</tspan><tspan x="175" dy="6.8">N</tspan></text>
<text y="229.5"><tspan x="163.3" text-anchor="end">34</tspan><tspan x="165" dy="-6.3" font-size="8">°</tspan><tspan x="175" dy="6.8">N</tspan></text>
<text y="244.5"><tspan x="163.3" text-anchor="end">32</tspan><tspan x="165" dy="-6.3" font-size="8">°</tspan><tspan x="175" dy="6.8">N</tspan></text>
<text y="258.5"><tspan x="163.3" text-anchor="end">30</tspan><tspan x="165" dy="-6.3" font-size="8">°</tspan><tspan x="175" dy="6.8">N</tspan></text>
<text y="272.5"><tspan x="163.3" text-anchor="end">28</tspan><tspan x="165" dy="-6.3" font-size="8">°</tspan><tspan x="175" dy="6.8">N</tspan></text>
<text y="286.5"><tspan x="163.3" text-anchor="end">26</tspan><tspan x="165" dy="-6.3" font-size="8">°</tspan><tspan x="175" dy="6.8">N</tspan></text>
<text y="300.5"><tspan x="163.3" text-anchor="end">24</tspan><tspan x="165" dy="-6.3" font-size="8">°</tspan><tspan x="175" dy="6.8">N</tspan></text>
<text y="313.5"><tspan x="163.3" text-anchor="end">22</tspan><tspan x="165" dy="-6.3" font-size="8">°</tspan><tspan x="175" dy="6.8">N</tspan></text>
</g>
<text x="307.5" y="339.5" font-size="23" text-anchor="middle">SAT 250 hPa RH (Percent)</text>
</g>

<!-- Panel 4 -->
<g transform="translate(0,390)">
<rect x="195.7" y="96" width="233.6" height="213.3" fill="none" stroke="#000" stroke-width="1"/>
<rect x="441" y="93.3" width="23.3" height="219" fill="url(#jet)" stroke="#262626" stroke-width="0.8"/>
<line x1="461" y1="202.8" x2="464.3" y2="202.8" stroke="#262626" stroke-width="0.8"/>
<g font-size="21"><text x="473" y="101.5">100</text><text x="473" y="210.5">50</text><text x="473" y="320">0</text></g>
<g font-size="12">
<text y="78"><tspan x="215">100</tspan><tspan x="243" dy="-3.3" font-size="8">°</tspan><tspan x="253.3" dy="3.5">W</tspan></text>
<text y="78"><tspan x="284">90</tspan><tspan x="303" dy="-3.3" font-size="8">°</tspan><tspan x="310.7" dy="3.5">W</tspan></text>
<text y="78"><tspan x="348.3">80</tspan><tspan x="368" dy="-3.3" font-size="8">°</tspan><tspan x="375" dy="3.5">W</tspan></text>
<text y="78"><tspan x="409.3">70</tspan><tspan x="429" dy="-3.3" font-size="8">°</tspan><tspan x="436.7" dy="3.5">W</tspan></text>
<text y="114"><tspan x="163.3" text-anchor="end">48</tspan><tspan x="165" dy="-6.3" font-size="8">°</tspan><tspan x="175" dy="6.8">N</tspan></text>
<text y="132"><tspan x="163.3" text-anchor="end">46</tspan><tspan x="165" dy="-6.3" font-size="8">°</tspan><tspan x="175" dy="6.8">N</tspan></text>
<text y="149.5"><tspan x="163.3" text-anchor="end">44</tspan><tspan x="165" dy="-6.3" font-size="8">°</tspan><tspan x="175" dy="6.8">N</tspan></text>
<text y="166.5"><tspan x="163.3" text-anchor="end">42</tspan><tspan x="165" dy="-6.3" font-size="8">°</tspan><tspan x="175" dy="6.8">N</tspan></text>
<text y="183"><tspan x="163.3" text-anchor="end">40</tspan><tspan x="165" dy="-6.3" font-size="8">°</tspan><tspan x="175" dy="6.8">N</tspan></text>
<text y="199"><tspan x="163.3" text-anchor="end">38</tspan><tspan x="165" dy="-6.3" font-size="8">°</tspan><tspan x="175" dy="6.8">N</tspan></text>
<text y="214.5"><tspan x="163.3" text-anchor="end">36</tspan><tspan x="165" dy="-6.3" font-size="8">°</tspan><tspan x="175" dy="6.8">N</tspan></text>
<text y="229.5"><tspan x="163.3" text-anchor="end">34</tspan><tspan x="165" dy="-6.3" font-size="8">°</tspan><tspan x="175" dy="6.8">N</tspan></text>
<text y="244.5"><tspan x="163.3" text-anchor="end">32</tspan><tspan x="165" dy="-6.3" font-size="8">°</tspan><tspan x="175" dy="6.8">N</tspan></text>
<text y="258.5"><tspan x="163.3" text-anchor="end">30</tspan><tspan x="165" dy="-6.3" font-size="8">°</tspan><tspan x="175" dy="6.8">N</tspan></text>
<text y="272.5"><tspan x="163.3" text-anchor="end">28</tspan><tspan x="165" dy="-6.3" font-size="8">°</tspan><tspan x="175" dy="6.8">N</tspan></text>
<text y="286.5"><tspan x="163.3" text-anchor="end">26</tspan><tspan x="165" dy="-6.3" font-size="8">°</tspan><tspan x="175" dy="6.8">N</tspan></text>
<text y="300.5"><tspan x="163.3" text-anchor="end">24</tspan><tspan x="165" dy="-6.3" font-size="8">°</tspan><tspan x="175" dy="6.8">N</tspan></text>
<text y="313.5"><tspan x="163.3" text-anchor="end">22</tspan><tspan x="165" dy="-6.3" font-size="8">°</tspan><tspan x="175" dy="6.8">N</tspan></text>
</g>
<text x="307.5" y="339.5" font-size="23" text-anchor="middle">SAT 300 hPa RH (Percent)</text>
</g>

<!-- Panel 5 -->
<g transform="translate(421,390)">
<rect x="195.7" y="96" width="233.6" height="213.3" fill="none" stroke="#000" stroke-width="1"/>
<rect x="441" y="93.3" width="23.3" height="219" fill="url(#jet)" stroke="#262626" stroke-width="0.8"/>
<line x1="461" y1="202.8" x2="464.3" y2="202.8" stroke="#262626" stroke-width="0.8"/>
<g font-size="21"><text x="473" y="101.5">100</text><text x="473" y="210.5">50</text><text x="473" y="320">0</text></g>
<g font-size="12">
<text y="78"><tspan x="215">100</tspan><tspan x="243" dy="-3.3" font-size="8">°</tspan><tspan x="253.3" dy="3.5">W</tspan></text>
<text y="78"><tspan x="284">90</tspan><tspan x="303" dy="-3.3" font-size="8">°</tspan><tspan x="310.7" dy="3.5">W</tspan></text>
<text y="78"><tspan x="348.3">80</tspan><tspan x="368" dy="-3.3" font-size="8">°</tspan><tspan x="375" dy="3.5">W</tspan></text>
<text y="78"><tspan x="409.3">70</tspan><tspan x="429" dy="-3.3" font-size="8">°</tspan><tspan x="436.7" dy="3.5">W</tspan></text>
<text y="114"><tspan x="163.3" text-anchor="end">48</tspan><tspan x="165" dy="-6.3" font-size="8">°</tspan><tspan x="175" dy="6.8">N</tspan></text>
<text y="132"><tspan x="163.3" text-anchor="end">46</tspan><tspan x="165" dy="-6.3" font-size="8">°</tspan><tspan x="175" dy="6.8">N</tspan></text>
<text y="149.5"><tspan x="163.3" text-anchor="end">44</tspan><tspan x="165" dy="-6.3" font-size="8">°</tspan><tspan x="175" dy="6.8">N</tspan></text>
<text y="166.5"><tspan x="163.3" text-anchor="end">42</tspan><tspan x="165" dy="-6.3" font-size="8">°</tspan><tspan x="175" dy="6.8">N</tspan></text>
<text y="183"><tspan x="163.3" text-anchor="end">40</tspan><tspan x="165" dy="-6.3" font-size="8">°</tspan><tspan x="175" dy="6.8">N</tspan></text>
<text y="199"><tspan x="163.3" text-anchor="end">38</tspan><tspan x="165" dy="-6.3" font-size="8">°</tspan><tspan x="175" dy="6.8">N</tspan></text>
<text y="214.5"><tspan x="163.3" text-anchor="end">36</tspan><tspan x="165" dy="-6.3" font-size="8">°</tspan><tspan x="175" dy="6.8">N</tspan></text>
<text y="229.5"><tspan x="163.3" text-anchor="end">34</tspan><tspan x="165" dy="-6.3" font-size="8">°</tspan><tspan x="175" dy="6.8">N</tspan></text>
<text y="244.5"><tspan x="163.3" text-anchor="end">32</tspan><tspan x="165" dy="-6.3" font-size="8">°</tspan><tspan x="175" dy="6.8">N</tspan></text>
<text y="258.5"><tspan x="163.3" text-anchor="end">30</tspan><tspan x="165" dy="-6.3" font-size="8">°</tspan><tspan x="175" dy="6.8">N</tspan></text>
<text y="272.5"><tspan x="163.3" text-anchor="end">28</tspan><tspan x="165" dy="-6.3" font-size="8">°</tspan><tspan x="175" dy="6.8">N</tspan></text>
<text y="286.5"><tspan x="163.3" text-anchor="end">26</tspan><tspan x="165" dy="-6.3" font-size="8">°</tspan><tspan x="175" dy="6.8">N</tspan></text>
<text y="300.5"><tspan x="163.3" text-anchor="end">24</tspan><tspan x="165" dy="-6.3" font-size="8">°</tspan><tspan x="175" dy="6.8">N</tspan></text>
<text y="313.5"><tspan x="163.3" text-anchor="end">22</tspan><tspan x="165" dy="-6.3" font-size="8">°</tspan><tspan x="175" dy="6.8">N</tspan></text>
</g>
<text x="307.5" y="339.5" font-size="23" text-anchor="middle">SAT 350 hPa RH (Percent)</text>
</g>

<!-- Panel 6 -->
<g transform="translate(843,390)">
<rect x="195.7" y="96" width="233.6" height="213.3" fill="none" stroke="#000" stroke-width="1"/>
<rect x="441" y="93.3" width="23.3" height="219" fill="url(#jet)" stroke="#262626" stroke-width="0.8"/>
<line x1="461" y1="202.8" x2="464.3" y2="202.8" stroke="#262626" stroke-width="0.8"/>
<g font-size="21"><text x="473" y="101.5">100</text><text x="473" y="210.5">50</text><text x="473" y="320">0</text></g>
<g font-size="12">
<text y="78"><tspan x="215">100</tspan><tspan x="243" dy="-3.3" font-size="8">°</tspan><tspan x="253.3" dy="3.5">W</tspan></text>
<text y="78"><tspan x="284">90</tspan><tspan x="303" dy="-3.3" font-size="8">°</tspan><tspan x="310.7" dy="3.5">W</tspan></text>
<text y="78"><tspan x="348.3">80</tspan><tspan x="368" dy="-3.3" font-size="8">°</tspan><tspan x="375" dy="3.5">W</tspan></text>
<text y="78"><tspan x="409.3">70</tspan><tspan x="429" dy="-3.3" font-size="8">°</tspan><tspan x="436.7" dy="3.5">W</tspan></text>
<text y="114"><tspan x="163.3" text-anchor="end">48</tspan><tspan x="165" dy="-6.3" font-size="8">°</tspan><tspan x="175" dy="6.8">N</tspan></text>
<text y="132"><tspan x="163.3" text-anchor="end">46</tspan><tspan x="165" dy="-6.3" font-size="8">°</tspan><tspan x="175" dy="6.8">N</tspan></text>
<text y="149.5"><tspan x="163.3" text-anchor="end">44</tspan><tspan x="165" dy="-6.3" font-size="8">°</tspan><tspan x="175" dy="6.8">N</tspan></text>
<text y="166.5"><tspan x="163.3" text-anchor="end">42</tspan><tspan x="165" dy="-6.3" font-size="8">°</tspan><tspan x="175" dy="6.8">N</tspan></text>
<text y="183"><tspan x="163.3" text-anchor="end">40</tspan><tspan x="165" dy="-6.3" font-size="8">°</tspan><tspan x="175" dy="6.8">N</tspan></text>
<text y="199"><tspan x="163.3" text-anchor="end">38</tspan><tspan x="165" dy="-6.3" font-size="8">°</tspan><tspan x="175" dy="6.8">N</tspan></text>
<text y="214.5"><tspan x="163.3" text-anchor="end">36</tspan><tspan x="165" dy="-6.3" font-size="8">°</tspan><tspan x="175" dy="6.8">N</tspan></text>
<text y="229.5"><tspan x="163.3" text-anchor="end">34</tspan><tspan x="165" dy="-6.3" font-size="8">°</tspan><tspan x="175" dy="6.8">N</tspan></text>
<text y="244.5"><tspan x="163.3" text-anchor="end">32</tspan><tspan x="165" dy="-6.3" font-size="8">°</tspan><tspan x="175" dy="6.8">N</tspan></text>
<text y="258.5"><tspan x="163.3" text-anchor="end">30</tspan><tspan x="165" dy="-6.3" font-size="8">°</tspan><tspan x="175" dy="6.8">N</tspan></text>
<text y="272.5"><tspan x="163.3" text-anchor="end">28</tspan><tspan x="165" dy="-6.3" font-size="8">°</tspan><tspan x="175" dy="6.8">N</tspan></text>
<text y="286.5"><tspan x="163.3" text-anchor="end">26</tspan><tspan x="165" dy="-6.3" font-size="8">°</tspan><tspan x="175" dy="6.8">N</tspan></text>
<text y="300.5"><tspan x="163.3" text-anchor="end">24</tspan><tspan x="165" dy="-6.3" font-size="8">°</tspan><tspan x="175" dy="6.8">N</tspan></text>
<text y="313.5"><tspan x="163.3" text-anchor="end">22</tspan><tspan x="165" dy="-6.3" font-size="8">°</tspan><tspan x="175" dy="6.8">N</tspan></text>
</g>
<text x="307.5" y="339.5" font-size="23" text-anchor="middle">SAT 400 hPa RH (Percent)</text>
</g>

</g>
</svg>
</body>
</html>
